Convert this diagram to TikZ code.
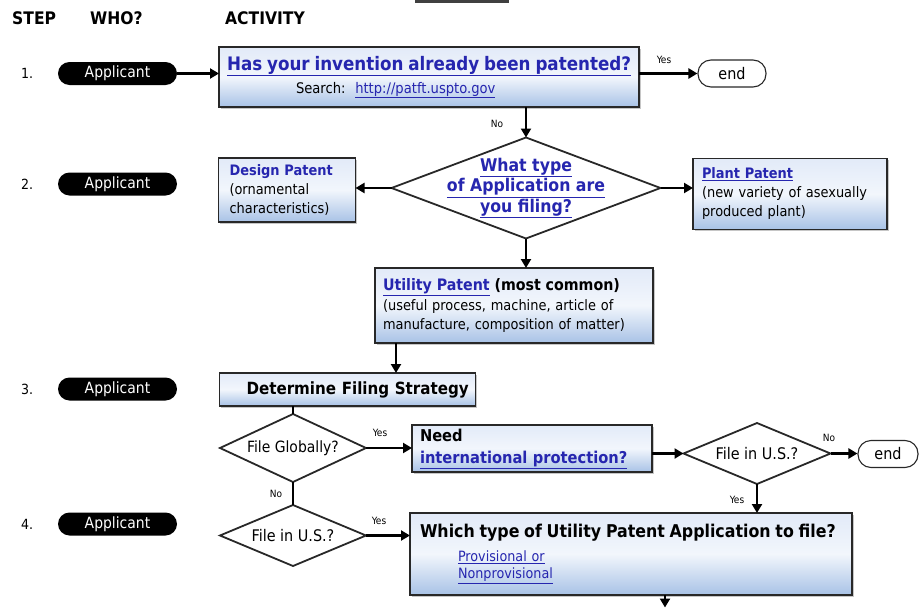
\documentclass[tikz,border=0pt]{standalone}
\usepackage{fontspec}
\setmainfont{DejaVu Sans Condensed}
\usetikzlibrary{arrows.meta,shapes.geometric,shadows,calc}
\definecolor{linkblue}{RGB}{38,38,175}
\definecolor{boxtop}{RGB}{226,234,248}
\definecolor{boxmid}{RGB}{242,246,252}
\definecolor{boxbot}{RGB}{168,194,230}
\definecolor{edge}{RGB}{40,40,40}
\newcommand\lnk[1]{\textcolor{linkblue}{\underline{#1}}}
\newcommand\fsz[2]{\fontsize{#1}{#2}\selectfont}
\begin{document}
\begin{tikzpicture}[x=1pt,y=-1pt,
  arr/.style={-{Triangle[length=9pt,width=10pt]}, line width=2.5pt},
  plain/.style={line width=2.5pt},
  boxst/.style={rectangle, draw=edge, line width=1.8pt, top color=boxtop, bottom color=boxbot, middle color=boxmid, drop shadow={shadow xshift=1.5pt, shadow yshift=-1.5pt, opacity=0.45}, inner ysep=0pt, outer sep=0pt, align=left},
  pill/.style={rectangle, rounded corners=11.5pt, fill=black, text=white, minimum width=119pt, minimum height=23pt, inner sep=0pt, font=\fsz{15.5}{18}},
  endst/.style={rectangle, rounded corners=13pt, draw=edge, line width=1.1pt, fill=white, minimum width=68pt, minimum height=27pt, inner sep=0pt, font=\fsz{16}{18}},
  dia/.style={diamond, draw=edge, line width=1.8pt, fill=white, inner sep=0pt, outer sep=0pt, align=center},
  lbl/.style={inner sep=0pt, font=\fsz{10}{11}},
  hdr/.style={inner sep=0pt, anchor=west, font=\bfseries\fsz{17.3}{18}},
  num/.style={inner sep=0pt, anchor=west, font=\fsz{14}{16}},
]
\useasboundingbox (0,0) rectangle (919,608);
\coordinate (tl1) at (415,1.5);
\coordinate (tl2) at (509,1.5);
\draw[line width=2.2pt, black!75] (tl1) -- (tl2);

\node[hdr] (hstep) at (12,18) {STEP};
\node[hdr] (hwho) at (90,18) {WHO?};
\node[hdr] (hact) at (225,18) {ACTIVITY};

\node[num] (n1) at (21,73.5) {1.};
\node[num] (n2) at (21,184) {2.};
\node[num] (n3) at (21,389) {3.};
\node[num] (n4) at (21,524) {4.};

\node[pill] (p1) at (117.5,73.5) {Applicant};
\node[pill] (p2) at (117.5,184) {Applicant};
\node[pill] (p3) at (117.5,389) {Applicant};
\node[pill] (p4) at (117.5,524) {Applicant};

\node[boxst, minimum width=420pt, minimum height=60pt, text width=404pt, inner xsep=8pt, font=\fsz{14.6}{23}] (b1) at (429,77)
  {{\bfseries\fsz{18.6}{23}\lnk{Has your invention already been patented?}}\\\hspace*{69pt}Search:\ \ \lnk{http://patft.uspto.gov}};
\node[endst] (e1) at (732,73.5) {end};

\node[dia, minimum width=269pt, minimum height=101pt, shape aspect=2.66, inner ysep=-12pt, font=\bfseries\fsz{17.5}{20.5}, text=linkblue] (d1) at (526,188)
  {\underline{What type}\\\underline{of Application are}\\\underline{you filing?}};

\node[boxst, minimum width=137pt, minimum height=64pt, text width=115pt, inner xsep=11pt, font=\fsz{14.4}{19}] (des) at (287,190)
  {\textcolor{linkblue}{\bfseries Design Patent}\\(ornamental\\characteristics)};

\node[boxst, minimum width=194pt, minimum height=71pt, text width=176pt, inner xsep=9pt, font=\fsz{14.4}{19}] (pl) at (790,194)
  {{\bfseries\lnk{Plant Patent}}\\(new variety of asexually\\produced plant)};

\node[boxst, minimum width=278pt, minimum height=75pt, text width=262pt, inner xsep=8pt, font=\fsz{14.4}{19.5}] (ut) at (514,305.5)
  {{\bfseries\fsz{15.8}{19.5}\lnk{Utility Patent} (most common)}\\(useful process, machine, article of\\manufacture, composition of matter)};

\node[boxst, minimum width=256pt, minimum height=33pt, text width=240pt, inner xsep=8pt, font=\bfseries\fsz{16.8}{19}] (det) at (347.5,389.5)
  {\hspace*{19pt}\mbox{Determine Filing Strategy}};

\node[dia, minimum width=146pt, minimum height=68pt, shape aspect=2.15, font=\fsz{15.5}{18}] (d2) at (293,448) {File Globally?};

\node[boxst, minimum width=240pt, minimum height=47pt, text width=224pt, inner xsep=8pt, font=\bfseries\fsz{16.3}{22}] (nd) at (532,448.5)
  {Need\\\lnk{international protection?}};

\node[dia, minimum width=147pt, minimum height=61pt, shape aspect=2.4, font=\fsz{16}{18}] (d3) at (757,453.5) {File in U.S.?};
\node[endst, minimum width=60pt] (e2) at (888,454) {end};

\node[dia, minimum width=146pt, minimum height=61pt, shape aspect=2.4, font=\fsz{16}{18}] (d4) at (293,535.5) {File in U.S.?};

\node[boxst, minimum width=442pt, minimum height=82pt, text width=422pt, inner xsep=10pt, font=\fsz{14.2}{17}] (wh) at (631,554)
  {{\bfseries\fsz{17.6}{17}\mbox{Which type of Utility Patent Application to file?}}\\[7pt]\hspace*{38pt}\lnk{Provisional or}\\\hspace*{38pt}\lnk{Nonprovisional}};

% connectors
\draw[arr] (p1.east) -- (p1.east -| b1.west);
\draw[arr] (b1.east |- e1.west) -- (e1.west);
\node[lbl] (ly1) at (664,60) {Yes};
\draw[arr] (d1.north |- b1.south) -- (d1.north);
\node[lbl] (ln1) at (497,124) {No};
\draw[arr] (d1.west) -- (d1.west -| des.east);
\draw[arr] (d1.east) -- (d1.east -| pl.west);
\draw[arr] (d1.south) -- (d1.south |- ut.north);
\coordinate (uta) at (396,0);
\draw[arr] (uta |- ut.south) -- (uta |- det.north);
\draw[plain] (d2.north |- det.south) -- (d2.north);
\draw[arr] (d2.east) -- (d2.east -| nd.west);
\node[lbl] (ly2) at (380,433) {Yes};
\draw[arr] (nd.east |- d3.west) -- (d3.west);
\draw[arr] (d3.east) -- (d3.east -| e2.west);
\node[lbl] (ln2) at (829,438) {No};
\draw[arr] (d3.south) -- (d3.south |- wh.north);
\node[lbl] (ly3) at (737,500) {Yes};
\draw[plain] (d2.south) -- (d4.north);
\node[lbl] (ln3) at (276,494) {No};
\draw[arr] (d4.east) -- (d4.east -| wh.west);
\node[lbl] (ly4) at (379,521) {Yes};
\coordinate (bot) at (665,607.5);
\draw[arr] (bot |- wh.south) -- (bot);
\end{tikzpicture}
\end{document}
